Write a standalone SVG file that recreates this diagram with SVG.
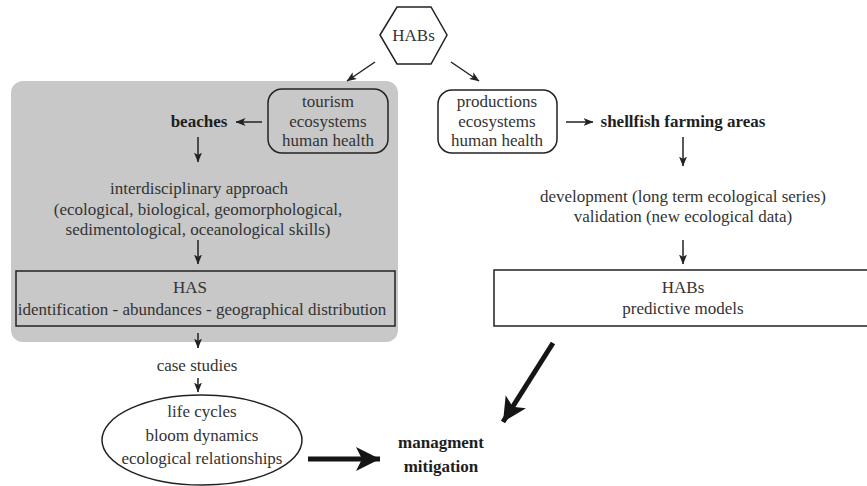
<svg xmlns="http://www.w3.org/2000/svg" width="867" height="486" viewBox="0 0 867 486">
<style>
.t{font-family:'Liberation Serif',serif;font-size:17px;fill:#333;text-anchor:middle}
.b{font-weight:bold;fill:#1e1e1e}
.box{fill:none;stroke:#222;stroke-width:1.5}
.ln{stroke:#222;stroke-width:1.5;fill:none}
.thick{stroke:#151515;stroke-width:5;fill:none}
</style>
<defs>
<marker id="ah" markerUnits="userSpaceOnUse" markerWidth="10" markerHeight="8" refX="9.5" refY="4" orient="auto">
<path d="M0,0 L10,4 L0,8 L2.5,4 z" fill="#222"/>
</marker>
<marker id="big" markerUnits="userSpaceOnUse" markerWidth="26" markerHeight="26" refX="24" refY="12" orient="auto">
<path d="M0,0 L24,12 L0,24 L6,12 z" fill="#151515"/>
</marker>
</defs>
<rect width="867" height="486" fill="#fff"/>
<g id="panel"><rect x="11" y="81" width="387" height="261" rx="12" fill="#c8c8c8"/></g>
<g id="habs-hex">
<polygon points="380,35 397,7 431,7 447,35 431,64 397,64" fill="#fff" stroke="#222" stroke-width="1.5"/>
<text class="t" x="413.5" y="41">HABs</text>
</g>
<g id="tourism">
<rect class="box" x="268" y="89" width="120" height="64" rx="14"/>
<text class="t" x="328" y="107">tourism</text>
<text class="t" x="328" y="127">ecosystems</text>
<text class="t" x="328" y="146">human health</text>
</g>
<g id="productions">
<rect class="box" x="438" y="90" width="119" height="63" rx="14" fill="#fff"/>
<text class="t" x="497" y="107">productions</text>
<text class="t" x="497" y="127">ecosystems</text>
<text class="t" x="497" y="146">human health</text>
</g>
<g id="beaches"><text class="t b" x="199" y="127">beaches</text></g>
<g id="shellfish"><text class="t b" x="683" y="127">shellfish farming areas</text></g>
<g id="interdisciplinary">
<text class="t" x="199" y="194">interdisciplinary approach</text>
<text class="t" x="198" y="215">(ecological, biological, geomorphological,</text>
<text class="t" x="198" y="235">sedimentological, oceanological skills)</text>
</g>
<g id="development">
<text class="t" x="683" y="202">development (long term ecological series)</text>
<text class="t" x="683" y="222">validation (new ecological data)</text>
</g>
<g id="has">
<rect class="box" x="16" y="271" width="379" height="55"/>
<text class="t" x="190" y="293">HAS</text>
<text class="t" x="202" y="315">identification - abundances - geographical distribution</text>
</g>
<g id="models">
<rect class="box" x="494" y="270" width="380" height="56" stroke-width="2"/>
<text class="t" x="683" y="293">HABs</text>
<text class="t" x="683" y="314">predictive models</text>
</g>
<g id="case-studies"><text class="t" x="197" y="371">case studies</text></g>
<g id="cycles">
<ellipse cx="202" cy="440" rx="100" ry="45" fill="#fff" stroke="#222" stroke-width="1.5"/>
<text class="t" x="202" y="417">life cycles</text>
<text class="t" x="202" y="441">bloom dynamics</text>
<text class="t" x="202" y="464">ecological relationships</text>
</g>
<g id="management">
<text class="t b" x="441" y="448" font-size="19">managment</text>
<text class="t b" x="441" y="472" font-size="19">mitigation</text>
</g>
<g id="connectors">
<line class="ln" x1="375" y1="62" x2="347" y2="81" stroke-width="2" marker-end="url(#ah)"/>
<line class="ln" x1="451" y1="62" x2="479" y2="81" stroke-width="2" marker-end="url(#ah)"/>
<line class="ln" x1="262" y1="122" x2="236" y2="122" marker-end="url(#ah)"/>
<line class="ln" x1="566" y1="122" x2="593" y2="122" marker-end="url(#ah)"/>
<line class="ln" x1="198" y1="137" x2="198" y2="162" marker-end="url(#ah)"/>
<line class="ln" x1="198" y1="240" x2="198" y2="264" marker-end="url(#ah)"/>
<line class="ln" x1="198" y1="333" x2="198" y2="348" marker-end="url(#ah)"/>
<line class="ln" x1="198" y1="378" x2="198" y2="392" marker-end="url(#ah)"/>
<line class="ln" x1="683" y1="137" x2="683" y2="166" marker-end="url(#ah)"/>
<line class="ln" x1="683" y1="240" x2="683" y2="264" marker-end="url(#ah)"/>
<line class="thick" x1="308" y1="459" x2="380" y2="459" marker-end="url(#big)"/>
<line class="thick" x1="553" y1="343" x2="503" y2="422" marker-end="url(#big)"/>
</g>
</svg>
